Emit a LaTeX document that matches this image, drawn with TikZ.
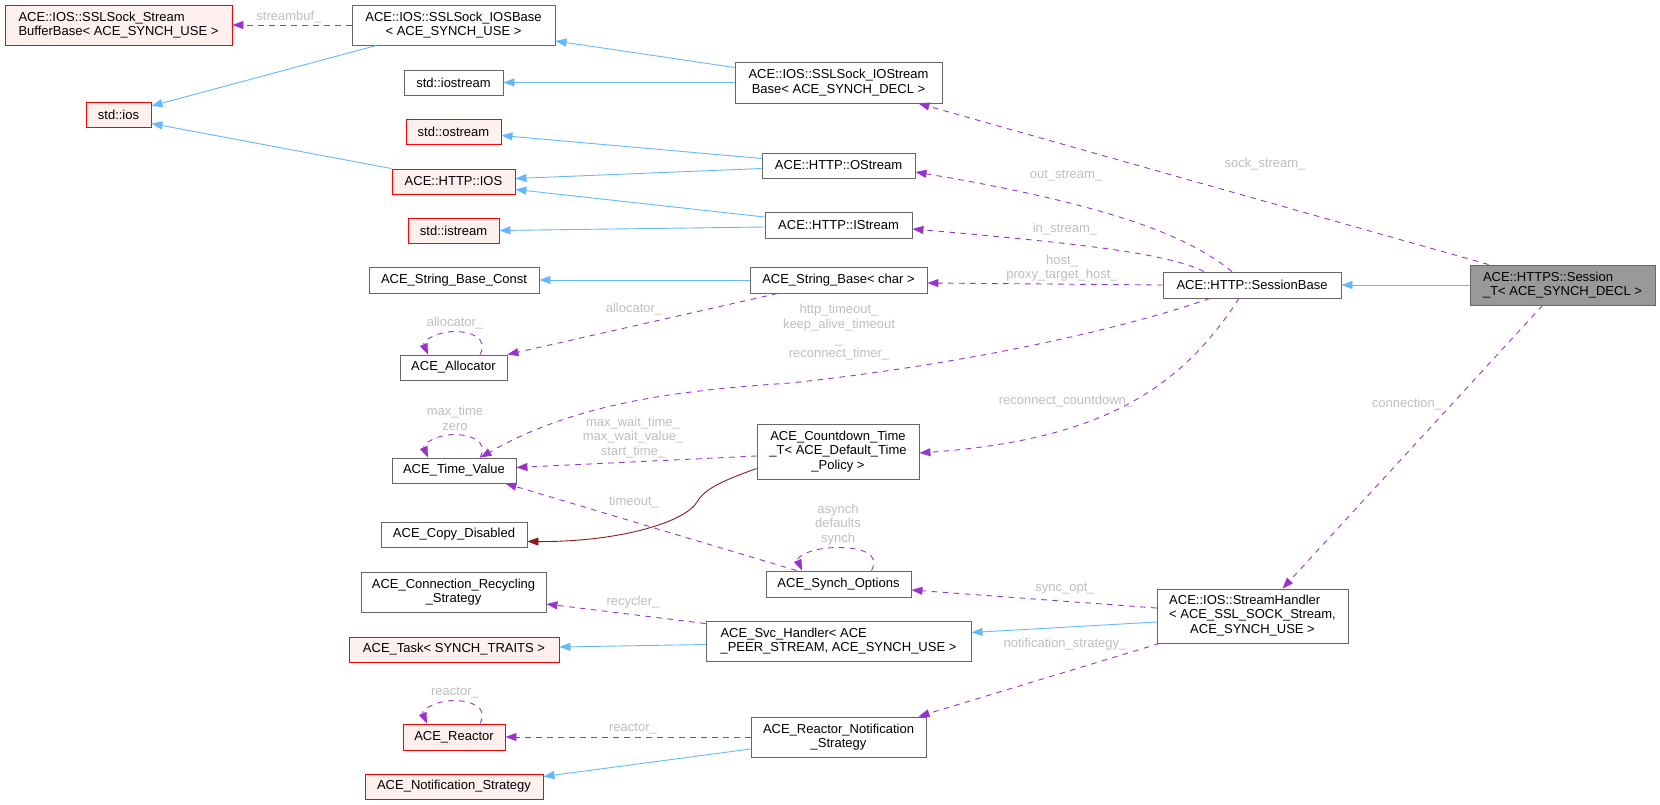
\documentclass[tikz,border=0pt]{standalone}
\usepackage{fontspec}
\setmainfont{Liberation Sans}
\usetikzlibrary{arrows.meta,calc}
\definecolor{inhC}{HTML}{63B8FF}
\definecolor{useC}{HTML}{9A32CD}
\definecolor{privC}{HTML}{8B1A1A}
\definecolor{lblC}{HTML}{BEBEBE}
\definecolor{redfill}{HTML}{FFF0F0}
\definecolor{grayB}{HTML}{666666}
\definecolor{selfC}{HTML}{999999}
\newcommand{\drawSelfLoop}[4]{%
  \draw[usedge] ($(#1.north)+(#2,0)$) .. controls ($(#1.north)+(#2+9,-17)$) and ($(#1.north)+(#2-10,-23)$) .. ($(#1.north)+(#4,-23)$) .. controls ($(#1.north)+(#3+10,-23)$) and ($(#1.north)+(#3-6,-14)$) .. ($(#1.north)+(#3,0)$);}
\begin{document}
\begin{tikzpicture}[x=1pt,y=-1pt,
  font=\fontsize{13}{14.7}\selectfont,
  nbox/.style 2 args={draw=grayB, fill=white, line width=0.9pt, inner sep=0pt,
     minimum width=#1pt, minimum height=#2pt, align=center, text=black},
  redbox/.style={draw=red, fill=redfill},
  curbox/.style={fill=selfC},
  lbl/.style={text=lblC, inner sep=0pt, align=center},
  inhedge/.style={draw=inhC, line width=0.9pt, -{Triangle[length=11pt,width=8pt]}},
  usedge/.style={draw=useC, line width=0.9pt, dash pattern=on 5.5pt off 5.5pt, -{Triangle[length=11pt,width=8pt]}},
  privedge/.style={draw=privC, line width=0.9pt, -{Triangle[length=11pt,width=8pt]}},
]
\useasboundingbox (0,0) rectangle (1660,805);
% column 1
\node[nbox={227}{40}, redbox, align=left] (sbb) at (118.5,25) {ACE::IOS::SSLSock\_Stream\\BufferBase< ACE\_SYNCH\_USE >};
\node[nbox={65}{25}, redbox] (ios) at (118.5,114.5) {std::ios};
% column 2
\node[nbox={203}{40}] (iosb) at (453.5,25) {ACE::IOS::SSLSock\_IOSBase\\< ACE\_SYNCH\_USE >};
\node[nbox={99}{25}] (iostream) at (453.5,82.5) {std::iostream};
\node[nbox={95}{25}, redbox] (ostream) at (453.5,131.5) {std::ostream};
\node[nbox={123}{25}, redbox] (hios) at (453.5,181.5) {ACE::HTTP::IOS};
\node[nbox={91}{25}, redbox] (istream) at (453.5,230.5) {std::istream};
\node[nbox={170}{26}] (sbc) at (454,280) {ACE\_String\_Base\_Const};
\node[nbox={107}{25}] (alloc) at (453.5,367.5) {ACE\_Allocator};
\node[nbox={124}{25}] (tv) at (454,470.5) {ACE\_Time\_Value};
\node[nbox={146}{25}] (cd) at (454,534.5) {ACE\_Copy\_Disabled};
\node[nbox={185}{40}] (crs) at (453.5,592) {ACE\_Connection\_Recycling\\\_Strategy};
\node[nbox={210}{25}, redbox] (task) at (454,649.5) {ACE\_Task< SYNCH\_TRAITS >};
\node[nbox={102}{26}, redbox] (reactor) at (454,737) {ACE\_Reactor};
\node[nbox={178}{25}, redbox] (ns) at (454,786.5) {ACE\_Notification\_Strategy};
% column 3
\node[nbox={207}{41}] (iosb2) at (838.5,82.5) {ACE::IOS::SSLSock\_IOStream\\Base< ACE\_SYNCH\_DECL >};
\node[nbox={153}{25}] (ostr) at (838.5,165.5) {ACE::HTTP::OStream};
\node[nbox={147}{26}] (istr) at (838.5,225) {ACE::HTTP::IStream};
\node[nbox={177}{26}] (sb) at (838.5,280) {ACE\_String\_Base< char >};
\node[nbox={162}{55}] (cdt) at (838,451.5) {ACE\_Countdown\_Time\\\_T< ACE\_Default\_Time\\\_Policy >};
\node[nbox={145}{26}] (so) at (838.5,584) {ACE\_Synch\_Options};
\node[nbox={265}{40}, align=left] (svc) at (838.5,641) {ACE\_Svc\_Handler< ACE\\\_PEER\_STREAM, ACE\_SYNCH\_USE >};
\node[nbox={175}{40}] (rns) at (838.5,737) {ACE\_Reactor\_Notification\\\_Strategy};
% column 4
\node[nbox={178}{26}] (sessb) at (1252,285) {ACE::HTTP::SessionBase};
\node[nbox={191}{54}] (sh) at (1252.5,616) {\begin{tabular}{@{}l@{}}ACE::IOS::StreamHandler\\< ACE\_SSL\_SOCK\_Stream,\\\multicolumn{1}{@{}c@{}}{ACE\_SYNCH\_USE >}\end{tabular}};
% column 5
\node[nbox={185}{40}, curbox, align=left] (st) at (1562.5,285) {ACE::HTTPS::Session\\\_T< ACE\_SYNCH\_DECL >};

% inheritance edges
\draw[inhedge] ($(iosb.south west)+(25,0)$) -- ($(ios.east)+(0,-8.5)$);
\draw[inhedge] (hios.north west) -- ($(ios.east)+(0,9)$);
\draw[inhedge] ($(iosb2.west)+(0,-15)$) -- ($(iosb.east)+(0,16)$);
\draw[inhedge] (iosb2.west) -- (iostream.east);
\draw[inhedge] ($(ostr.west)+(0,-7)$) -- ($(ostream.east)+(0,4)$);
\draw[inhedge] ($(ostr.west)+(0,3)$) -- ($(hios.east)+(0,-3)$);
\draw[inhedge] ($(istr.west)+(0,-8)$) -- ($(hios.east)+(0,8)$);
\draw[inhedge] ($(istr.west)+(0,2)$) -- (istream.east);
\draw[inhedge] (sb.west) -- (sbc.east);
\draw[inhedge] (st.west) -- (sessb.east);
\draw[inhedge] ($(sh.west)+(0,6)$) -- ($(svc.east)+(0,-8.5)$);
\draw[inhedge] ($(svc.west)+(0,3.5)$) -- ($(task.east)+(0,-2.5)$);
\draw[inhedge] ($(rns.west)+(0,12)$) -- ($(ns.north east)+(0,3)$);
% private inheritance
\draw[privedge] ($(cdt.west)+(0,17)$) .. controls (725,480) and (705,488) .. (697,502)
   .. controls (685,522) and (620,542) .. ($(cd.east)+(0,7)$);

% usage edges
\draw[usedge] (iosb.west) -- (sbb.east);
\draw[usedge] ($(st.north west)+(19,0)$) -- ($(iosb2.south east)+(-24,0)$);
\draw[usedge] ($(sessb.north)+(-20,0)$) .. controls (1195,242) and (1130,208) .. ($(ostr.east)+(0,6.5)$);
\draw[usedge] ($(sessb.north)+(-48,0)$) .. controls (1170,255) and (1100,245) .. ($(istr.east)+(0,4)$);
\draw[usedge] (sessb.west) -- ($(sb.east)+(0,3)$);
\draw[usedge] ($(sessb.south)+(-42,0)$) .. controls (1120,330) and (960,365) .. (790,383)
   .. controls (690,390) and (580,400) .. ($(tv.north east)+(-36,0)$);
\draw[usedge] ($(sessb.south)+(-13,0)$) .. controls (1180,390) and (1100,440) .. ($(cdt.east)+(0,1.5)$);
\draw[usedge] ($(cdt.west)+(0,4.5)$) -- ($(tv.east)+(0,-3)$);
\draw[usedge] ($(so.north west)+(31,0)$) -- ($(tv.south east)+(-11,0)$);
\draw[usedge] ($(sh.west)+(0,-8)$) -- ($(so.east)+(0,6)$);
\draw[usedge] ($(svc.north west)+(0,3)$) -- ($(crs.east)+(0,12)$);
\draw[usedge] ($(st.south west)+(73,0)$) -- ($(sh.north)+(30,0)$);
\draw[usedge] ($(sh.south west)+(3,0)$) -- ($(rns.north east)+(-8,0)$);
\draw[usedge] (rns.west) -- (reactor.east);
\draw[usedge] ($(sb.south west)+(28,0)$) -- (alloc.north east);
\drawSelfLoop{alloc}{26.5}{-25.5}{1}
\drawSelfLoop{tv}{26}{-26}{0}
\drawSelfLoop{reactor}{26}{-27}{0}
\drawSelfLoop{so}{33}{-36.5}{-1}

% edge labels
\node[lbl] (l1) at (289,17) {streambuf\_};
\node[lbl] (l2) at (1265,164) {sock\_stream\_};
\node[lbl] (l3) at (1066,176) {out\_stream\_};
\node[lbl] (l4) at (1065,229) {in\_stream\_};
\node[lbl] (l5) at (1062,268) {host\_\\proxy\_target\_host\_};
\node[lbl] (l6) at (839,332.5) {http\_timeout\_\\keep\_alive\_timeout\\\_\\reconnect\_timer\_};
\node[lbl] (l7) at (1066,401) {reconnect\_countdown\_};
\node[lbl] (l8) at (634,309) {allocator\_};
\node[lbl] (l9) at (455,323) {allocator\_};
\node[lbl] (l10) at (455,418.5) {max\_time\\zero};
\node[lbl] (l11) at (633,437.5) {max\_wait\_time\_\\max\_wait\_value\_\\start\_time\_};
\node[lbl] (l12) at (634,502) {timeout\_};
\node[lbl] (l13) at (838,524.5) {asynch\\defaults\\synch};
\node[lbl] (l14) at (1065,589) {sync\_opt\_};
\node[lbl] (l15) at (633,602) {recycler\_};
\node[lbl] (l16) at (1065,644) {notification\_strategy\_};
\node[lbl] (l17) at (633,729) {reactor\_};
\node[lbl] (l18) at (455,693) {reactor\_};
\node[lbl] (l19) at (1407,404) {connection\_};
\end{tikzpicture}
\end{document}
